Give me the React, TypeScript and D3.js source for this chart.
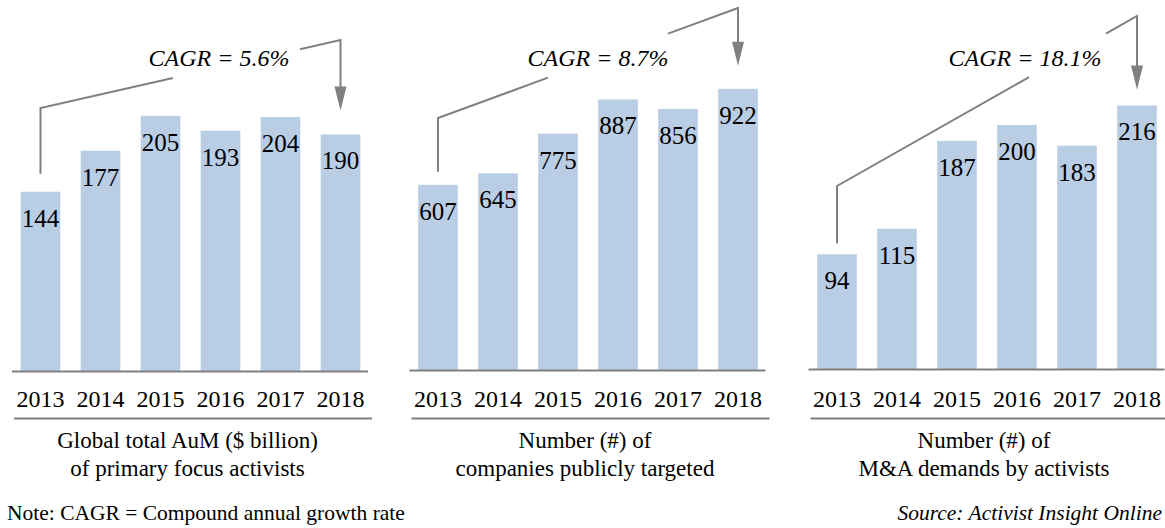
import { useMemo } from "react";
import * as d3 from "d3";

const WIDTH = 1165;
const HEIGHT = 528;
const FONT = "Liberation Serif";
const BAR_COLOR = "#b9cde5";
const LINE_COLOR = "#808080";

const years = ["2013", "2014", "2015", "2016", "2017", "2018"];
const aumValues = [144, 177, 205, 193, 204, 190];
const companiesValues = [607, 645, 775, 887, 856, 922];
const maDemandsValues = [94, 115, 187, 200, 183, 216];
const cagrLabels = ["CAGR = 5.6%", "CAGR = 8.7%", "CAGR = 18.1%"];
const captions = [
  ["Global total AuM ($ billion)", "of primary focus activists"],
  ["Number (#) of", "companies publicly  targeted"],
  ["Number (#) of", "M&A demands by activists"],
];
const noteText = "Note: CAGR = Compound annual growth rate";
const sourceText = "Source: Activist Insight Online";

// layout of the three panels
const panels = [
  { values: aumValues, x0: 10.5, yMax: 245, base: 371, elbowY: 108, topY: 40, gap: [173, 300], startGap: 18, tipGap: 24, textX: 219 },
  { values: companiesValues, x0: 408, yMax: 1000, base: 370, elbowY: 118, topY: 8, gap: [548, 668], startGap: 13, tipGap: 23, textX: 598 },
  { values: maDemandsValues, x0: 807, yMax: 250, base: 369, elbowY: 186, topY: 16, gap: [1029, 1106], startGap: 11, tipGap: 16, textX: 1025 },
];
const PANEL_W = 360;

const T = ({ children, size = 24, italic = false, ...rest }) => (
  <text {...rest} fontSize={size} fontStyle={italic ? "italic" : "normal"} style={{ fontFamily: FONT }} fill="#000">
    {children}
  </text>
);

function Panel({ p, i }) {
  const x = useMemo(
    () => d3.scaleBand().domain(years).range([p.x0, p.x0 + PANEL_W]).paddingInner(0.34).paddingOuter(0.17),
    [p]
  );
  const y = useMemo(() => d3.scaleLinear().domain([0, p.yMax]).range([p.base, p.base - 305]), [p]);
  const bw = x.bandwidth();
  const first = x(years[0]) + bw / 2;
  const last = x(years[years.length - 1]) + bw / 2;

  // connector: left leg up, diagonal (interrupted by label), right leg down with arrow
  const slope = (p.topY - p.elbowY) / (last - first);
  const yAt = (xx) => p.elbowY + slope * (xx - first);
  const tipY = y(p.values[p.values.length - 1]) - p.tipGap;
  const leftPath = d3.line()([
    [first, y(p.values[0]) - p.startGap],
    [first, p.elbowY],
    [p.gap[0], yAt(p.gap[0])],
  ]);
  const rightPath = d3.line()([
    [p.gap[1], yAt(p.gap[1])],
    [last, p.topY],
    [last, tipY - 22],
  ]);

  return (
    <g>
      {p.values.map((v, j) => (
        <g key={years[j]}>
          <rect x={x(years[j])} y={y(v)} width={bw} height={p.base - y(v)} fill={BAR_COLOR} />
          <T x={x(years[j]) + bw / 2} y={y(v) + 35} textAnchor="middle" size={25}>
            {v}
          </T>
          <T x={x(years[j]) + bw / 2} y={407} textAnchor="middle" size={24}>
            {years[j]}
          </T>
        </g>
      ))}
      <line x1={p.x0 + 1.5} x2={p.x0 + PANEL_W - 2.5} y1={p.base + 0.5} y2={p.base + 0.5} stroke={LINE_COLOR} strokeWidth={2} />
      <line x1={p.x0 + 3.5} x2={p.x0 + PANEL_W + 1.5} y1={418.5} y2={418.5} stroke={LINE_COLOR} strokeWidth={2} />
      {captions[i].map((c, k) => (
        <T key={k} x={p.x0 + 177} y={448 + k * 28} textAnchor="middle" size={23}>
          {c}
        </T>
      ))}
      <path d={leftPath} fill="none" stroke={LINE_COLOR} strokeWidth={2} />
      <path d={rightPath} fill="none" stroke={LINE_COLOR} strokeWidth={2} />
      <path d={`M${last - 6},${tipY - 24}L${last + 6},${tipY - 24}L${last},${tipY}Z`} fill={LINE_COLOR} />
      <T x={p.textX} y={66} textAnchor="middle" size={24} italic>
        {cagrLabels[i]}
      </T>
    </g>
  );
}

export default function App() {
  return (
    <div style={{ position: "absolute", left: 0, top: 0 }}>
      <svg width={WIDTH} height={HEIGHT} style={{ display: "block", background: "#fff" }}>
        {panels.map((p, i) => (
          <Panel key={i} p={p} i={i} />
        ))}
        <T x={7} y={520} size={21.5}>
          {noteText}
        </T>
        <T x={1162} y={520} size={21.5} italic textAnchor="end">
          {sourceText}
        </T>
      </svg>
    </div>
  );
}
